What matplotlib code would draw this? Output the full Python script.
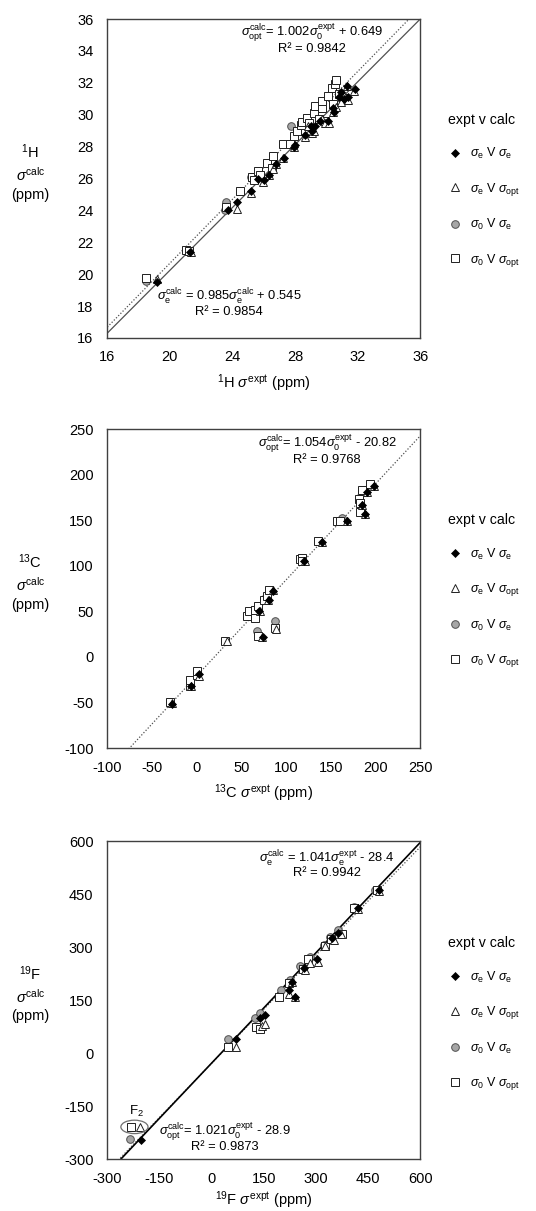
import matplotlib
matplotlib.use("Agg")
import matplotlib.pyplot as plt
from matplotlib.patches import Ellipse
import numpy as np

# ---------------------------------------------------------------
# data
# ee = sigma_e v sigma_e, eo = sigma_e v sigma_opt,
# ze = sigma_0 v sigma_e, zo = sigma_0 v sigma_opt
# ---------------------------------------------------------------
# 1H
h_ee_x = [19.2, 21.3, 23.7, 24.3, 25.2, 25.6, 26.0, 26.3, 26.8, 27.3, 27.9, 28.0, 28.6,
          29.0, 29.1, 29.3, 29.6, 30.1, 30.4, 30.5, 30.8, 30.9, 31.1, 31.3, 31.4, 31.8]
h_ee_y = [19.5, 21.4, 24.0, 24.5, 25.2, 26.0, 25.9, 26.2, 26.9, 27.3, 28.0, 28.1, 28.7,
          29.3, 29.0, 29.3, 29.6, 29.6, 30.4, 30.2, 31.1, 31.4, 31.0, 31.8, 31.1, 31.6]
h_eo_x = [19.2, 21.35, 24.3, 25.2, 25.95, 26.3, 26.6, 26.8, 27.25, 27.95, 28.6, 28.8, 29.1,
          29.2, 29.7, 29.9, 30.15, 30.45, 30.6, 30.9, 31.1, 31.3, 31.4, 31.75]
h_eo_y = [19.7, 21.4, 24.1, 25.1, 25.8, 26.2, 26.6, 26.9, 27.3, 28.0, 28.6, 29.3, 28.85,
          29.0, 29.7, 29.5, 29.5, 30.2, 30.5, 30.8, 31.2, 31.8, 30.95, 31.5]
h_ze_x = [18.5, 21.0, 23.5, 23.6, 24.5, 25.2, 26.6, 27.75, 29.3, 30.6]
h_ze_y = [19.6, 21.5, 24.0, 24.5, 25.2, 26.1, 27.4, 29.3, 30.55, 32.2]
h_zo_x = [18.5, 21.05, 21.2, 23.6, 24.5, 25.25, 25.35, 25.65, 25.75, 26.2, 26.5, 26.6,
          27.25, 27.7, 27.9, 28.1, 28.4, 28.45, 28.75, 28.9, 29.2, 29.3, 29.5, 29.7, 29.7,
          29.9, 30.1, 30.35, 30.4, 30.55, 30.6, 30.8, 31.1]
h_zo_y = [19.75, 21.5, 21.45, 24.2, 25.2, 26.1, 25.9, 26.5, 26.2, 26.95, 26.65, 27.4,
          28.15, 28.15, 28.65, 28.95, 29.35, 29.55, 29.8, 29.5, 30.1, 30.55, 29.7, 30.4, 30.85,
          29.6, 31.15, 31.65, 30.7, 31.9, 32.15, 31.3, 31.05]

# 13C
c_ee_x = [-28, -6, 2, 70, 74, 81, 85, 120, 140, 168, 185, 188, 190, 198]
c_ee_y = [-52, -32, -19, 50, 22, 62, 72, 105, 126, 149, 167, 157, 181, 188]
c_eo_x = [-28, -6, 3, 34, 71, 73.5, 80, 85, 89, 121, 140, 168, 185, 188, 190, 198]
c_eo_y = [-51, -32, -21, 17, 50, 21.8, 62, 73, 31, 105.6, 125.7, 148.7, 167, 157, 181, 188]
c_ze_x = [-30, -8, 0, 32, 56, 69, 67, 75, 88, 116, 136, 162, 181, 185, 194]
c_ze_y = [-49, -31, -18, 17, 45, 52.5, 28.7, 63, 39.7, 107, 127.5, 152, 174, 183, 190]
c_zo_x = [-30, -8, -7.5, 0, 0.7, 32, 56, 58, 65, 65, 68, 69, 75, 78, 81, 88, 116, 117.5,
          118, 136, 157, 160, 181, 182, 182, 185, 194]
c_zo_y = [-49, -32, -25, -19.5, -16, 17, 45, 50.7, 51, 42.6, 23.3, 55.4, 62.8, 66.4, 73, 31.7,
          107.4, 108.5, 104.8, 127.5, 148.7, 149, 173, 168.8, 159, 182.7, 190]

# 19F
f_ee_x = [-204, 70, 140, 154, 221, 231, 241, 266, 304, 346, 362, 420, 480]
f_ee_y = [-246, 39, 98, 107, 178, 200, 160, 240, 267, 327, 340, 410, 462]
f_eo_x = [-206, 70, 146, 154, 221, 231, 240, 269, 283, 305, 327, 351, 372, 420, 481]
f_eo_y = [-210, 16, 76, 82, 168, 201, 159, 234, 255, 258, 303, 319, 336, 409, 459]
f_ze_x = [-235, 48, 125, 139, 199, 226, 255, 282, 324, 339, 362, 408, 470]
f_ze_y = [-243, 41, 100, 112, 178, 208, 247, 272, 307, 329, 349, 413, 462]
f_zo_x = [-232, 48, 127, 139, 195, 222, 262, 276, 327, 342, 374, 410, 475]
f_zo_y = [-209, 18, 74, 69, 159, 197, 239, 265, 303, 322, 336, 411, 462]

# trend lines (slope, intercept)
h_fit_e = (0.985, 0.545)
h_fit_o = (1.002, 0.649)
c_fit_o = (1.054, -20.82)
f_fit_e = (1.041, -28.4)
f_fit_o = (1.021, -28.9)

# ---------------------------------------------------------------
plt.rcParams['font.family'] = ['Liberation Sans', 'DejaVu Sans']
plt.rcParams['mathtext.fontset'] = 'custom'
plt.rcParams['mathtext.rm'] = 'Liberation Sans'
plt.rcParams['mathtext.it'] = 'Liberation Sans:italic'
plt.rcParams['mathtext.bf'] = 'Liberation Sans:bold'
plt.rcParams['axes.unicode_minus'] = False

FRAME = '#404040'
EQ_FS = 9.3
LEG_LABELS = [r'$\sigma_{\mathrm{e}}$ V $\sigma_{\mathrm{e}}$',
              r'$\sigma_{\mathrm{e}}$ V $\sigma_{\mathrm{opt}}$',
              r'$\sigma_{0}$ V $\sigma_{\mathrm{e}}$',
              r'$\sigma_{0}$ V $\sigma_{\mathrm{opt}}$']

fig = plt.figure(figsize=(5.36, 12.11), dpi=100)
ax1 = fig.add_axes([0.2002, 0.7209, 0.584, 0.2634])
ax2 = fig.add_axes([0.2002, 0.3823, 0.584, 0.2634])
ax3 = fig.add_axes([0.2002, 0.0429, 0.584, 0.2626])


def draw_points(ax, ee, eo, ze, zo):
    h = []
    h += ax.plot(ee[0], ee[1], ls='none', marker='D', ms=3.6, mfc='black', mec='black',
                 mew=0.5, zorder=6)
    h += ax.plot(eo[0], eo[1], ls='none', marker='^', ms=5.5, mfc='white', mec='#202020',
                 mew=0.7, zorder=5)
    h += ax.plot(ze[0], ze[1], ls='none', marker='o', ms=5.5, mfc='#a6a6a6', mec='#505050',
                 mew=0.7, zorder=3)
    h += ax.plot(zo[0], zo[1], ls='none', marker='s', ms=5.2, mfc='white', mec='#202020',
                 mew=0.7, zorder=4)
    return h


def fit_line(ax, fit, lim, **kw):
    xs = np.array(lim, dtype=float)
    ax.plot(xs, fit[0] * xs + fit[1], **kw)


def style(ax, lim, ticks, nuc, xpad=6):
    ax.set_xlim(lim); ax.set_ylim(lim)
    ax.set_xticks(ticks); ax.set_yticks(ticks)
    ax.tick_params(length=0, labelsize=10.5, colors='black')
    ax.tick_params(axis='y', pad=10)
    ax.tick_params(axis='x', pad=9)
    for s in ax.spines.values():
        s.set_color(FRAME); s.set_linewidth(1.0)
    ax.set_xlabel(r'$^{%s}$%s $\sigma^{\mathrm{expt}}$ (ppm)' % nuc, fontsize=10.5, labelpad=xpad)
    ax.set_ylabel(r'$^{%s}$%s' % nuc + '\n' + r'$\sigma^{\mathrm{calc}}$' + '\n(ppm)',
                  fontsize=10.5, rotation=0, ha='center', va='center', linespacing=1.35)
    ax.yaxis.set_label_coords(-0.246, 0.52)


def legend(ax, handles, y):
    lg = ax.legend(handles, LEG_LABELS, loc='upper left', bbox_to_anchor=(1.07, y),
                   frameon=False, fontsize=9, title='expt v calc', title_fontsize=10.2,
                   handlelength=1.0, handletextpad=0.7, labelspacing=1.55, borderpad=0)
    lg._legend_box.align = 'left'


def eq(ax, x, y, s):
    ax.text(x, y, s, transform=ax.transAxes, ha='center', va='center', fontsize=EQ_FS)


# ---- 1H ----
lim1 = (16, 36)
fit_line(ax1, h_fit_e, lim1, color='#505050', lw=0.9, zorder=2)
fit_line(ax1, h_fit_o, lim1, color='#505050', lw=0.9, ls=(0, (1, 1.5)), zorder=2)
hd = draw_points(ax1, (h_ee_x, h_ee_y), (h_eo_x, h_eo_y), (h_ze_x, h_ze_y), (h_zo_x, h_zo_y))
style(ax1, lim1, [16, 20, 24, 28, 32, 36], ('1', 'H'))
ax1.set_yticks(range(16, 37, 2))
eq(ax1, 0.654, 0.956, r'$\sigma_{\mathrm{opt}}^{\mathrm{calc}}$= 1.002$\sigma_{0}^{\mathrm{expt}}$ + 0.649')
eq(ax1, 0.654, 0.906, 'R² = 0.9842')
eq(ax1, 0.389, 0.129, r'$\sigma_{\mathrm{e}}^{\mathrm{calc}}$ = 0.985$\sigma_{\mathrm{e}}^{\mathrm{calc}}$ + 0.545')
eq(ax1, 0.389, 0.08, 'R² = 0.9854')
legend(ax1, hd, 0.725)

# ---- 13C ----
lim2 = (-100, 250)
fit_line(ax2, c_fit_o, lim2, color='#505050', lw=0.9, ls=(0, (1, 1.5)), zorder=2)
hd = draw_points(ax2, (c_ee_x, c_ee_y), (c_eo_x, c_eo_y), (c_ze_x, c_ze_y), (c_zo_x, c_zo_y))
style(ax2, lim2, range(-100, 251, 50), ('13', 'C'))
eq(ax2, 0.702, 0.953, r'$\sigma_{\mathrm{opt}}^{\mathrm{calc}}$= 1.054$\sigma_{0}^{\mathrm{expt}}$ - 20.82')
eq(ax2, 0.702, 0.903, 'R² = 0.9768')
legend(ax2, hd, 0.755)

# ---- 19F ----
lim3 = (-300, 600)
fit_line(ax3, f_fit_o, lim3, color='#505050', lw=0.9, ls=(0, (1, 1.5)), zorder=2)
fit_line(ax3, f_fit_e, lim3, color='black', lw=1.2, zorder=2)
hd = draw_points(ax3, (f_ee_x, f_ee_y), (f_eo_x, f_eo_y), (f_ze_x, f_ze_y), (f_zo_x, f_zo_y))
style(ax3, lim3, range(-300, 601, 150), ('19', 'F'), xpad=3)
eq(ax3, 0.702, 0.947, r'$\sigma_{\mathrm{e}}^{\mathrm{calc}}$ = 1.041$\sigma_{\mathrm{e}}^{\mathrm{expt}}$ - 28.4')
eq(ax3, 0.702, 0.899, 'R² = 0.9942')
eq(ax3, 0.374, 0.085, r'$\sigma_{\mathrm{opt}}^{\mathrm{calc}}$= 1.021$\sigma_{0}^{\mathrm{expt}}$ - 28.9')
eq(ax3, 0.374, 0.038, 'R² = 0.9873')
ax3.text(-216, -165, r'F$_{2}$', ha='center', va='center', fontsize=9.5)
ax3.add_patch(Ellipse((-222, -209), 78, 38, fill=False, ec='#707070', lw=0.9, zorder=7))
legend(ax3, hd, 0.72)

fig.savefig('out.png', dpi=100)
